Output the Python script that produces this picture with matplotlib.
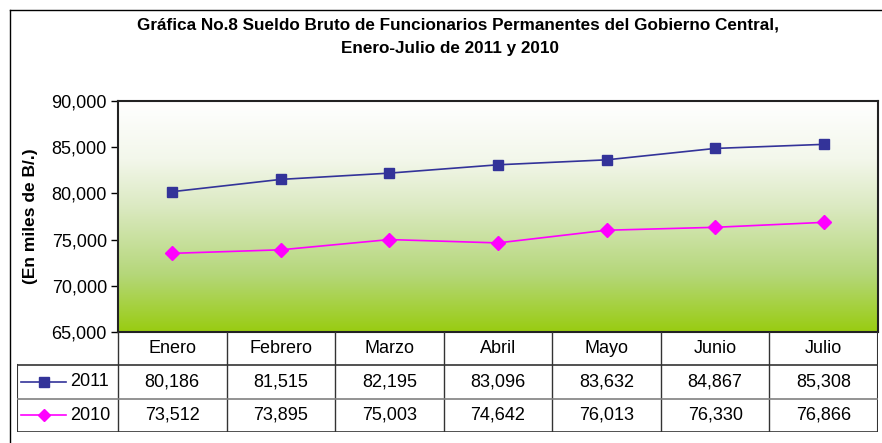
import numpy as np
import matplotlib
matplotlib.use("Agg")
import matplotlib.pyplot as plt
from matplotlib.colors import LinearSegmentedColormap
from matplotlib.lines import Line2D

plt.rcParams["font.family"] = ["Liberation Sans", "DejaVu Sans"]

months = ["Enero", "Febrero", "Marzo", "Abril", "Mayo", "Junio", "Julio"]
sueldo_2011 = [80186, 81515, 82195, 83096, 83632, 84867, 85308]
sueldo_2010 = [73512, 73895, 75003, 74642, 76013, 76330, 76866]
years = ["2011", "2010"]
yticks = [65000, 70000, 75000, 80000, 85000, 90000]

W, H = 882, 443
fig = plt.figure(figsize=(W / 100, H / 100), dpi=100)
fig.patch.set_facecolor("white")


def px_box(x0, y0, x1, y1):
    # pixel box (top-left origin) -> figure fraction rect
    return [x0 / W, 1 - y1 / H, (x1 - x0) / W, (y1 - y0) / H]


# outer frame (only left and top visible in the source)
fig.add_artist(Line2D([10 / W, 10 / W], [0, 1 - 10 / H], color="black", lw=1))
fig.add_artist(Line2D([10 / W, 1], [1 - 10 / H, 1 - 10 / H], color="black", lw=1))

fig.text(458 / W, 1 - 25 / H,
         "Gráfica No.8 Sueldo Bruto de Funcionarios Permanentes del Gobierno Central,",
         ha="center", va="center", fontsize=12.3, weight="bold")
fig.text(450 / W, 1 - 48 / H, "Enero-Julio de 2011 y 2010",
         ha="center", va="center", fontsize=12.3, weight="bold")

# plot area
left, right, top, bottom = 118, 878, 101, 332
ax = fig.add_axes(px_box(left, top, right, bottom))
x = np.arange(len(months))
ax.set_xlim(-0.5, len(months) - 0.5)
ax.set_ylim(65000, 90000)

grad = LinearSegmentedColormap.from_list(
    "bg", [(0, "#FFFFFF"), (0.25, "#F3F7EB"), (0.45, "#DCEAC3"),
           (0.75, "#B5D77A"), (1, "#99CC11")])
ax.imshow(np.linspace(0, 1, 256).reshape(-1, 1), cmap=grad, aspect="auto",
          extent=[0, 1, 0, 1], transform=ax.transAxes, zorder=0)

ax.plot(x, sueldo_2011, color="#333399", lw=1.2, marker="s", ms=7, zorder=3)
ax.plot(x, sueldo_2010, color="#FF00FF", lw=1.2, marker="D", ms=7, zorder=3)

ax.set_yticks(yticks)
ax.set_yticklabels([f"{v:,}" for v in yticks], fontsize=13)
ax.set_xticks([])
ax.tick_params(axis="y", length=5, width=1, pad=3)
for s in ax.spines.values():
    s.set_linewidth(1.5)
    s.set_color("#222222")
ax.set_ylabel("(En miles de B/.)", fontsize=12.5, weight="bold", labelpad=10)

# data table under the plot
tab_left, tab_bottom = 17, 432
colw = (right - left) / len(months)
tx = fig.add_axes(px_box(tab_left, bottom, right, tab_bottom))
tx.set_xlim(-0.5 - (left - tab_left) / colw, len(months) - 0.5)
tx.set_ylim(3, 0)
tx.axis("off")
x0 = -0.5 - (left - tab_left) / colw
xe = len(months) - 0.5

lc = "#333333"
for i in range(1, len(months)):
    tx.plot([i - 0.5, i - 0.5], [0, 3], color=lc, lw=1)
tx.plot([-0.5, -0.5], [0, 3], color=lc, lw=1)
tx.plot([xe, xe], [0, 3], color=lc, lw=1.5)
tx.plot([x0, x0], [1, 3], color=lc, lw=1.5)
tx.plot([x0, xe], [1, 1], color=lc, lw=1.2)
tx.plot([x0, xe], [2, 2], color="#808080", lw=1.2)
tx.plot([x0, xe], [3, 3], color=lc, lw=1.2)

for i, m in enumerate(months):
    tx.text(i, 0.5, m, ha="center", va="center", fontsize=13)
    tx.text(i, 1.5, f"{sueldo_2011[i]:,}", ha="center", va="center", fontsize=13)
    tx.text(i, 2.5, f"{sueldo_2010[i]:,}", ha="center", va="center", fontsize=13)

styles = [("#333399", "s"), ("#FF00FF", "D")]
for r, (yr, (c, mk)) in enumerate(zip(years, styles)):
    yy = 1.5 + r
    lx0 = x0 + 4 / colw
    lx1 = x0 + 49 / colw
    tx.plot([lx0, lx1], [yy, yy], color=c, lw=1.2)
    tx.plot([(lx0 + lx1) / 2], [yy], color=c, marker=mk, ms=6.5)
    tx.text(x0 + 53 / colw, yy, yr, ha="left", va="center", fontsize=13)

fig.savefig("out.png", dpi=100, facecolor="white")
